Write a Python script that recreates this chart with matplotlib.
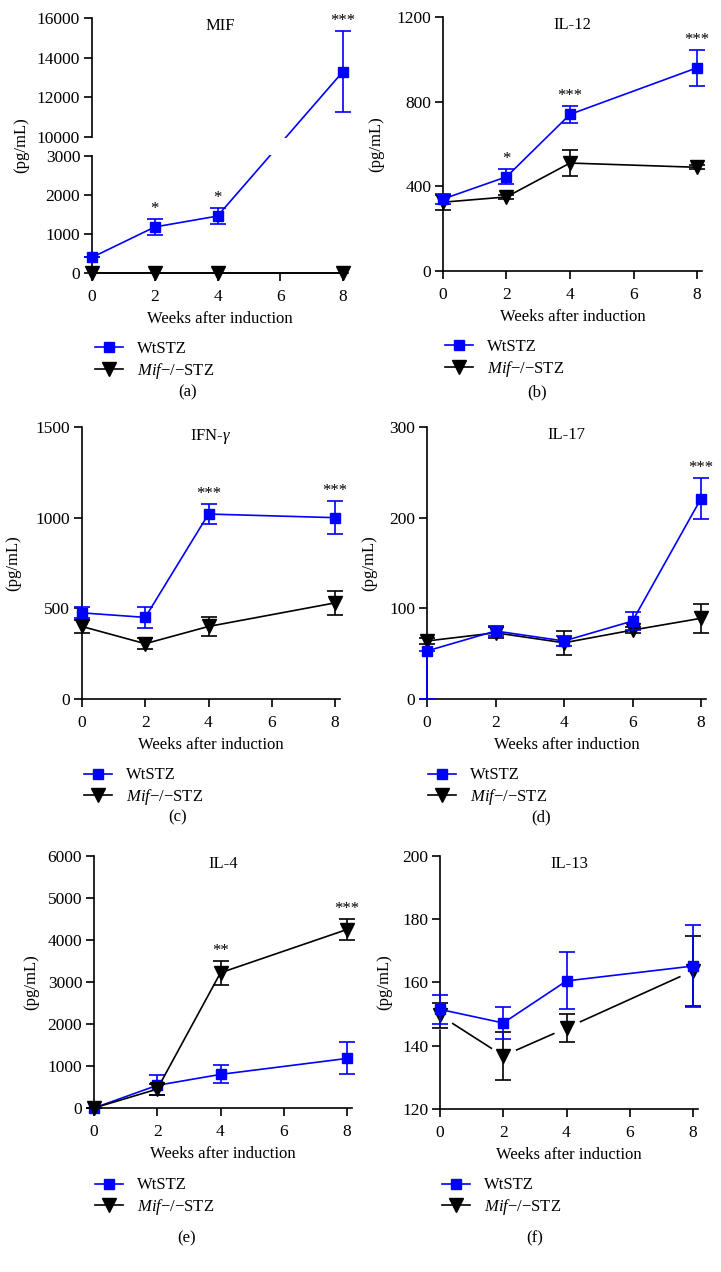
import numpy as np
import matplotlib
matplotlib.use("Agg")
import matplotlib.pyplot as plt
from matplotlib.patches import Rectangle
import matplotlib.transforms as mtransforms

plt.rcParams['font.family'] = ['Liberation Serif', 'DejaVu Serif']
plt.rcParams['mathtext.fontset'] = 'custom'
plt.rcParams['mathtext.it'] = 'Liberation Serif:italic'
plt.rcParams['mathtext.rm'] = 'Liberation Serif'

# ---- data ----
weeks = [0, 2, 4, 8]
weeks_il17 = [0, 2, 4, 6, 8]

mif_wt = [400, 1180, 1460, 13300]
mif_wt_err = [0, 210, 215, 2025]
mif_ko = [0, 0, 0, 0]
mif_ko_err = [0, 0, 0, 0]
mif_stars = ['', '*', '*', '***']

il12_wt = [340, 445, 740, 960]
il12_wt_err = [25, 35, 40, 85]
il12_ko = [325, 350, 510, 490]
il12_ko_err = [35, 10, 60, 10]
il12_stars = ['', '*', '***', '***']

ifng_wt = [475, 450, 1020, 1000]
ifng_wt_err = [30, 57, 53, 90]
ifng_ko = [400, 305, 400, 530]
ifng_ko_err = [35, 30, 50, 65]
ifng_stars = ['', '', '***', '***']

il17_wt = [53, 75, 64, 86, 221]
il17_wt_err_low = [53, 5, 5, 10, 23]
il17_wt_err_high = [0, 5, 5, 10, 23]
il17_ko = [64, 73, 62, 76, 89]
il17_ko_err = [3, 6, 13, 3, 16]
il17_stars = ['', '', '', '', '***']

il4_wt = [0, 540, 800, 1180]
il4_wt_err = [0, 240, 215, 380]
il4_ko = [0, 450, 3220, 4250]
il4_ko_err = [0, 130, 280, 250]
il4_stars = ['', '', '**', '***']

il13_wt = [151.5, 147.2, 160.5, 165.2]
il13_wt_err = [4.5, 5, 9, 13]
il13_ko = [149.6, 136.8, 145.6, 163.7]
il13_ko_err = [4, 7.5, 4.3, 11]

BLUE = '#0000ff'
W, H = 721, 1272
FS = 12
TICK_FS = 12.5

fig = plt.figure(figsize=(W / 100, H / 100), dpi=100)


def make_ax(x0, x8, top, bottom):
    xmax = 8.15
    width = (x8 - x0) * xmax / 8
    ax = fig.add_axes([x0 / W, 1 - bottom / H, width / W, (bottom - top) / H])
    ax.set_xlim(0, xmax)
    ax.set_xticks([0, 2, 4, 6, 8])
    for s in ['top', 'right']:
        ax.spines[s].set_visible(False)
    for s in ['left', 'bottom']:
        ax.spines[s].set_linewidth(1.2)
    ax.tick_params(direction='out', length=5.5, width=1.2, labelsize=TICK_FS)
    ax.tick_params(axis='x', pad=6)
    ax.tick_params(axis='y', pad=3)
    return ax, bottom - top


def errbars(ax, x, y, err, color, z):
    c = ax.errorbar(x, y, yerr=err, fmt='none', ecolor=color, elinewidth=1.2,
                    capsize=6, capthick=1.2, zorder=z)
    for a in [*c[1], *c[2]]:
        a.set_clip_on(False)


def series(ax, x, y, err, color, marker, ms, z, label, err_z=None):
    errbars(ax, x, y, err, color, z if err_z is None else err_z)
    ln, = ax.plot(x, y, color=color, lw=1.2, marker=marker, ms=ms, mfc=color,
                  mec=color, clip_on=False, zorder=z + 0.5, label=label)
    return ln


def stars(ax, x, top, marks):
    for xi, ti, m in zip(x, top, marks):
        if m:
            ax.annotate(m, xy=(xi, ti), xytext=(0, 1.5), textcoords='offset points',
                        ha='center', va='bottom', fontsize=FS)


def decorate(ax, h, title, ylab_dx, w_px, leg_x, leg_y, letter, let_x, let_y, handles):
    ax.text(0.5, 1.0, title, transform=ax.transAxes, ha='center', va='top', fontsize=FS)
    ax.set_ylabel('(pg/mL)', fontsize=FS, va='center')
    ax.yaxis.set_label_coords(-ylab_dx / w_px, 0.5)
    ax.set_xlabel('Weeks after induction', fontsize=FS, va='center')
    ax.xaxis.set_label_coords(0.5, -46 / h)
    ax.legend(handles, ['WtSTZ', r'$\mathit{Mif}$$-$/$-$STZ'], loc='center left',
              bbox_to_anchor=(leg_x / W, 1 - leg_y / H), bbox_transform=fig.transFigure,
              frameon=False, borderpad=0, borderaxespad=0, handlelength=1.7,
              handletextpad=0.8, labelspacing=0.2, fontsize=FS)
    fig.text(let_x / W, 1 - let_y / H, letter, ha='center', va='center', fontsize=FS)


# ---- (a) MIF with broken axis ----
def fwd(y):
    y = np.asarray(y, dtype=float)
    return np.where(y <= 3000, y * 117 / 3000,
                    np.where(y >= 10000, 136 + (y - 10000) * 119 / 6000,
                             117 + (y - 3000) * 19 / 7000))


def inv(v):
    v = np.asarray(v, dtype=float)
    return np.where(v <= 117, v * 3000 / 117,
                    np.where(v >= 136, 10000 + (v - 136) * 6000 / 119,
                             3000 + (v - 117) * 7000 / 19))


ax, h = make_ax(92, 343, 18, 273)
ax.set_yscale('function', functions=(fwd, inv))
ax.set_ylim(0, 16000)
ax.set_yticks([0, 1000, 2000, 3000, 10000, 12000, 14000, 16000])
ax.yaxis.set_major_formatter(matplotlib.ticker.FormatStrFormatter('%d'))
ax.yaxis.set_minor_locator(matplotlib.ticker.NullLocator())
h_ko = series(ax, weeks, mif_ko, None, 'black', 'v', 10.5, 3, 'ko')
h_wt = series(ax, weeks, mif_wt, mif_wt_err, BLUE, 's', 7.8, 4, 'wt')
stars(ax, weeks, np.add(mif_wt, mif_wt_err), mif_stars)
trans = mtransforms.blended_transform_factory(ax.transAxes, ax.transData)
ax.add_patch(Rectangle((-0.015, 3250), 1.03, 9750 - 3250, transform=trans,
                       facecolor='white', edgecolor='none', zorder=10, clip_on=False))
decorate(ax, h, 'MIF', 69, 251, 95, 361, '(a)', 188, 392, [h_wt, h_ko])

# ---- (b) IL-12 ----
ax, h = make_ax(443, 697, 17, 271)
ax.set_ylim(0, 1200)
ax.set_yticks([0, 400, 800, 1200])
h_ko = series(ax, weeks, il12_ko, il12_ko_err, 'black', 'v', 9.5, 3, 'ko')
h_wt = series(ax, weeks, il12_wt, il12_wt_err, BLUE, 's', 7.8, 4, 'wt')
stars(ax, weeks, np.add(il12_wt, il12_wt_err), il12_stars)
decorate(ax, h, 'IL-12', 66, 254, 445, 359, '(b)', 537, 392, [h_wt, h_ko])

# ---- (c) IFN-gamma ----
ax, h = make_ax(82, 335, 427, 699)
ax.set_ylim(0, 1500)
ax.set_yticks([0, 500, 1000, 1500])
h_ko = series(ax, weeks, ifng_ko, ifng_ko_err, 'black', 'v', 9.5, 3, 'ko')
h_wt = series(ax, weeks, ifng_wt, ifng_wt_err, BLUE, 's', 7.8, 4, 'wt')
stars(ax, weeks, np.add(ifng_wt, ifng_wt_err), ifng_stars)
decorate(ax, h, r'IFN-$\gamma$', 67, 253, 84, 787, '(c)', 178, 817, [h_wt, h_ko])

# ---- (d) IL-17 ----
ax, h = make_ax(427, 701, 427, 699)
ax.set_ylim(0, 300)
ax.set_yticks([0, 100, 200, 300])
h_ko = series(ax, weeks_il17, il17_ko, il17_ko_err, 'black', 'v', 9.5, 3, 'ko')
h_wt = series(ax, weeks_il17, il17_wt, [il17_wt_err_low, il17_wt_err_high], BLUE, 's', 7.8, 4, 'wt')
stars(ax, weeks_il17, np.add(il17_wt, il17_wt_err_high), il17_stars)
decorate(ax, h, 'IL-17', 57, 274, 428, 787, '(d)', 541, 817, [h_wt, h_ko])

# ---- (e) IL-4 ----
ax, h = make_ax(94, 347, 856, 1108)
ax.set_ylim(0, 6000)
ax.set_yticks(np.arange(0, 6001, 1000))
h_ko = series(ax, weeks, il4_ko, il4_ko_err, 'black', 'v', 9.5, 4, 'ko')
h_wt = series(ax, weeks, il4_wt, il4_wt_err, BLUE, 's', 7.8, 3, 'wt')
stars(ax, weeks, np.add(il4_ko, il4_ko_err), il4_stars)
decorate(ax, h, 'IL-4', 62, 253, 95, 1197, '(e)', 187, 1238, [h_wt, h_ko])

# ---- (f) IL-13 ----
ax, h = make_ax(440, 693, 856, 1109)
ax.set_ylim(120, 200)
ax.set_yticks([120, 140, 160, 180, 200])
h_ko = series(ax, weeks, il13_ko, il13_ko_err, 'black', 'v', 9.5, 3, 'ko', err_z=3.9)
h_ko.set_zorder(3.2)
# white halo around the triangles, the connecting line stops short of them
ax.plot(weeks, il13_ko, ls='none', marker='o', ms=20, mfc='white', mec='none',
        zorder=3.7, clip_on=False)
ax.plot(weeks, il13_ko, ls='none', marker='v', ms=9.5, color='black', zorder=3.8, clip_on=False)
h_wt = series(ax, weeks, il13_wt, il13_wt_err, BLUE, 's', 7.8, 4, 'wt')
decorate(ax, h, 'IL-13', 55, 253, 442, 1197, '(f)', 535, 1238, [h_wt, h_ko])

fig.savefig('out.png', dpi=100)
